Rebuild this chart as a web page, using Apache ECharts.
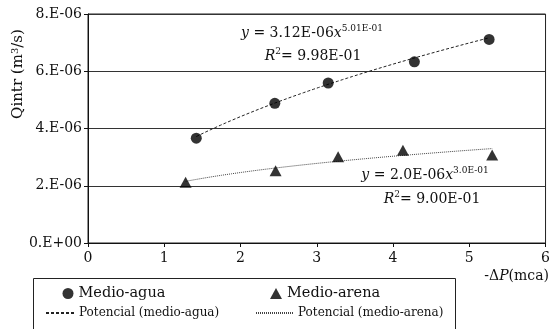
<!DOCTYPE html>
<html>
<head>
<meta charset="utf-8">
<script src="https://cdn.jsdelivr.net/npm/echarts@6/dist/echarts.min.js"></script>
<style>
  html, body { margin: 0; padding: 0; background: #fff; }
  #chart { width: 553px; height: 329px; }
</style>
</head>
<body>
<div id="chart"></div>
<script>
// Measured intrusion flow vs. pressure drop for two media
const aguaX = [1.42, 2.45, 3.15, 4.28, 5.26];
const aguaY = [3.66e-6, 4.88e-6, 5.59e-6, 6.33e-6, 7.11e-6];
const arenaX = [1.28, 2.46, 3.28, 4.13, 5.30];
const arenaY = [2.12e-6, 2.52e-6, 3.01e-6, 3.24e-6, 3.07e-6];

// Power-law fits y = a * x^b, as printed next to each curve
const aguaFit = { a: 3.12e-6, b: 0.501 };
const arenaFit = { a: 2.0e-6, b: 0.30 };

const yTickLabels = ['0.E+00', '2.E-06', '4.E-06', '6.E-06', '8.E-06'];
const xTickLabels = ['0', '1', '2', '3', '4', '5', '6'];

const seriesNames = ['Medio-agua', 'Medio-arena', 'Potencial (medio-agua)', 'Potencial (medio-arena)'];

const FONT = 'DejaVu Serif';
const INK = '#111';

function pairs(xs, ys) { return xs.map((x, i) => [x, ys[i]]); }

// Sample the fitted power curve across the measured range
function fitCurve(fit, xs) {
  const lo = Math.min.apply(null, xs), hi = Math.max.apply(null, xs);
  const n = 60, out = [];
  for (let i = 0; i <= n; i++) {
    const x = lo + (hi - lo) * i / n;
    out.push([x, fit.a * Math.pow(x, fit.b)]);
  }
  return out;
}

const chart = echarts.init(document.getElementById('chart'), null, { renderer: 'canvas' });

const sup = { fontSize: 9, fontFamily: FONT, color: INK, verticalAlign: 'top', lineHeight: 9 };
const base = { fontSize: 14, fontFamily: FONT, color: INK, lineHeight: 18 };
const ital = Object.assign({}, base, { fontStyle: 'italic' });

function legendFor(name, left, top, w, h, size, lineOnly) {
  const lg = {
    data: [name],
    left: left, top: top,
    padding: 0,
    itemWidth: w, itemHeight: h,
    selectedMode: false,
    textStyle: { fontFamily: FONT, fontSize: size, color: INK }
  };
  if (lineOnly) {
    // only the dashed/dotted stroke, no point symbol
    lg.itemStyle = { color: 'rgba(0,0,0,0)', borderWidth: 0, opacity: 0 };
  }
  return lg;
}

chart.setOption({
  backgroundColor: '#fff',
  animation: false,
  grid: { left: 88, right: 6, top: 14, bottom: 86, show: true, borderColor: '#222', borderWidth: 1 },
  xAxis: {
    type: 'value', min: 0, max: 6, interval: 1,
    axisLine: { lineStyle: { color: '#111', width: 1 } },
    axisTick: { show: true, inside: false, length: 4, lineStyle: { color: '#111' } },
    splitLine: { show: false },
    axisLabel: {
      margin: 8, fontFamily: FONT, fontSize: 14, color: INK,
      formatter: v => xTickLabels[Math.round(v)]
    }
  },
  yAxis: {
    type: 'value', min: 0, max: 8e-6, interval: 2e-6,
    axisLine: { show: true, lineStyle: { color: '#111', width: 1 } },
    axisTick: { show: true, inside: false, length: 4, lineStyle: { color: '#111' } },
    splitLine: { show: true, lineStyle: { color: '#333', width: 1 } },
    axisLabel: {
      margin: 6, fontFamily: FONT, fontSize: 14, color: INK,
      formatter: v => yTickLabels[Math.round(v / 2e-6)]
    }
  },
  legend: [
    legendFor(seriesNames[0], 62.5, 286, 11, 11, 14.5, false),
    legendFor(seriesNames[1], 270, 286, 12, 11, 14.5, false),
    legendFor(seriesNames[2], 45, 307, 28, 10, 12, true),
    legendFor(seriesNames[3], 255, 307, 37, 10, 12, true)
  ],
  series: [
    {
      name: seriesNames[0], type: 'scatter', z: 5,
      symbol: 'circle', symbolSize: 11,
      itemStyle: { color: '#000' },
      data: pairs(aguaX, aguaY)
    },
    {
      name: seriesNames[1], type: 'scatter', z: 5,
      symbol: 'triangle', symbolSize: [12, 11],
      itemStyle: { color: '#000' },
      data: pairs(arenaX, arenaY)
    },
    {
      name: seriesNames[2], type: 'line', z: 3,
      showSymbol: false, symbol: 'none', smooth: false,
      lineStyle: { color: '#222', width: 1, type: [3, 2] },
      itemStyle: { color: '#222' },
      data: fitCurve(aguaFit, aguaX)
    },
    {
      name: seriesNames[3], type: 'line', z: 3,
      showSymbol: false, symbol: 'none', smooth: false,
      lineStyle: { color: '#444', width: 1, type: [1, 1] },
      itemStyle: { color: '#444' },
      data: fitCurve(arenaFit, arenaX)
    }
  ],
  graphic: [
    // legend frame
    {
      type: 'rect', z: 1, silent: true,
      shape: { x: 33.5, y: 278.5, width: 422, height: 60 },
      style: { fill: 'none', stroke: '#222', lineWidth: 1 }
    },
    // y-axis title
    {
      type: 'text', x: 18, y: 74, rotation: Math.PI / 2,
      style: {
        text: 'Qintr (m{s|3}/s)',
        align: 'center', verticalAlign: 'middle',
        fontFamily: FONT, fontSize: 15, fill: INK,
        rich: { s: { fontSize: 10, fontFamily: FONT, verticalAlign: 'top', lineHeight: 10 } }
      }
    },
    // x-axis title
    {
      type: 'text', x: 549, y: 276,
      style: {
        text: '-Δ{i|P}(mca)',
        align: 'right', verticalAlign: 'middle',
        fontFamily: FONT, fontSize: 14, fill: INK,
        rich: { i: { fontStyle: 'italic', fontSize: 14, fontFamily: FONT } }
      }
    },
    // fit equations
    {
      type: 'text', x: 312, y: 33,
      style: {
        text: '{i|y}{b| = 3.12E-06}{i|x}{s|5.01E-01}',
        align: 'center', verticalAlign: 'middle', fill: INK,
        rich: { i: ital, b: base, s: sup }
      }
    },
    {
      type: 'text', x: 313, y: 56,
      style: {
        text: '{i|R}{s|2}{b|= 9.98E-01}',
        align: 'center', verticalAlign: 'middle', fill: INK,
        rich: { i: ital, b: base, s: sup }
      }
    },
    {
      type: 'text', x: 425, y: 175,
      style: {
        text: '{i|y}{b| = 2.0E-06}{i|x}{s|3.0E-01}',
        align: 'center', verticalAlign: 'middle', fill: INK,
        rich: { i: ital, b: base, s: sup }
      }
    },
    {
      type: 'text', x: 432, y: 199,
      style: {
        text: '{i|R}{s|2}{b|= 9.00E-01}',
        align: 'center', verticalAlign: 'middle', fill: INK,
        rich: { i: ital, b: base, s: sup }
      }
    }
  ]
});
</script>
</body>
</html>
